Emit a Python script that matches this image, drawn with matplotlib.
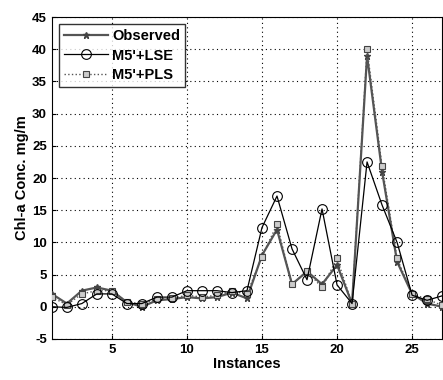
import matplotlib
matplotlib.use("Agg")
import matplotlib.pyplot as plt

instances = list(range(1, 28))
observed = [2.0, 0.5, 2.5, 3.0, 2.5, 0.7, 0.0, 1.0, 1.2, 1.5, 1.3, 1.5, 2.2, 1.3,
            8.0, 12.0, 3.5, 5.5, 3.5, 6.5, 0.5, 39.0, 21.0, 7.0, 2.0, 0.5, 0.0]
lse = [0.0, -0.1, 0.5, 2.0, 2.0, 0.5, 0.5, 1.5, 1.5, 2.5, 2.5, 2.5, 2.2, 2.5,
       12.3, 17.2, 9.0, 4.2, 15.2, 3.4, 0.5, 22.5, 15.8, 10.0, 1.8, 1.0, 1.7]
pls = [1.5, 0.3, 2.0, 2.5, 2.5, 0.7, 0.5, 1.2, 1.3, 1.8, 1.5, 1.8, 2.4, 2.0,
       7.8, 12.8, 3.5, 5.5, 3.0, 7.5, 0.5, 40.0, 21.8, 7.5, 2.0, 1.2, 0.2]
xticks = [5, 10, 15, 20, 25]
yticks = list(range(-5, 50, 5))

plt.rcParams['font.family'] = ['Liberation Sans', 'DejaVu Sans']
plt.rcParams['font.weight'] = 'bold'
plt.rcParams['axes.unicode_minus'] = False

fig = plt.figure(figsize=(4.43, 3.8), dpi=100)
ax = fig.add_axes([0.117, 0.108, 0.881, 0.847])

ax.plot(instances, observed, color='#555555', lw=1.6, marker='*', ms=5,
        mfc='#444444', mec='#444444', label='Observed', zorder=3)
ax.plot(instances, lse, color='black', lw=0.9, marker='o', ms=7,
        mfc='none', mec='black', mew=0.8, label="M5'+LSE", zorder=4)
ax.plot(instances, pls, color='#555555', lw=1.0, ls=':', marker='s', ms=5,
        mfc='#cccccc', mec='#444444', mew=0.8, label="M5'+PLS", zorder=3)

ax.set_xlim(1, 27)
ax.set_ylim(-5, 45)
ax.set_xticks(xticks)
ax.set_yticks(yticks)
ax.grid(True, color='black', ls=(0, (1, 3)), lw=0.8)
ax.tick_params(labelsize=9.5, length=3, direction='in')
for lab in ax.get_xticklabels() + ax.get_yticklabels():
    lab.set_fontweight('bold')
ax.set_xlabel('Instances', fontsize=10.5, fontweight='bold', labelpad=1)
ax.set_ylabel('Chl-a Conc. mg/m', fontsize=10.5, fontweight='bold', labelpad=2)

leg = ax.legend(loc='upper left', fontsize=10.5, frameon=True, fancybox=False,
                edgecolor='black', borderaxespad=0.5, handlelength=3.0,
                handletextpad=0.3, borderpad=0.35, labelspacing=0.35)
leg.get_frame().set_linewidth(1.0)
for t in leg.get_texts():
    t.set_fontweight('bold')

fig.savefig('out.png', dpi=100)
